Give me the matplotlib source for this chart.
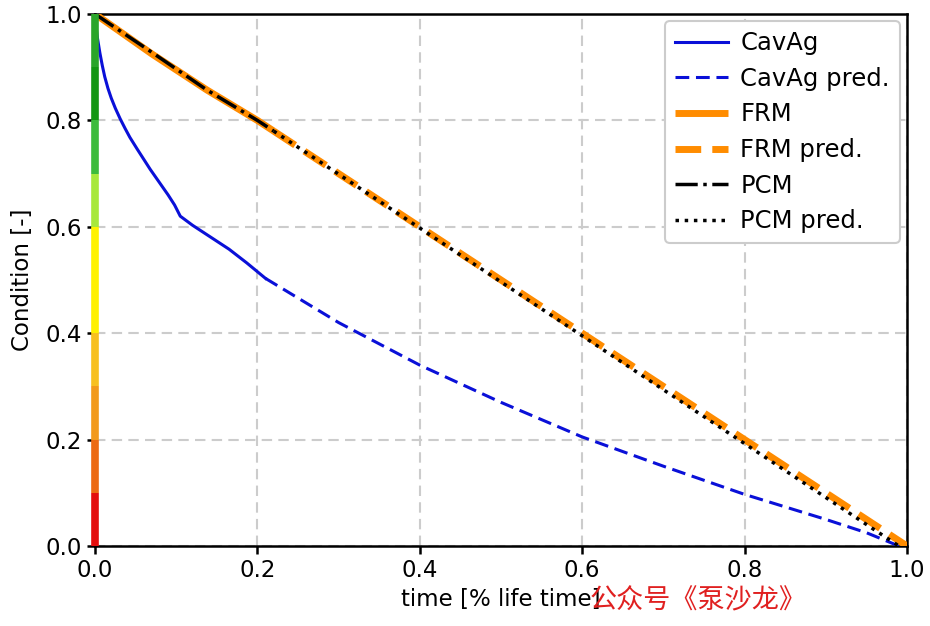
import matplotlib
matplotlib.use("Agg")
import matplotlib.pyplot as plt
import numpy as np

# --- data ---
cavag_x = [0.0, 0.001, 0.003, 0.006, 0.009, 0.012, 0.016, 0.02, 0.025, 0.031, 0.037,
           0.043, 0.052, 0.06, 0.068, 0.079, 0.09, 0.098, 0.105, 0.12, 0.142, 0.165, 0.187, 0.21]
cavag_y = [1.0, 0.98, 0.955, 0.927, 0.903, 0.882, 0.86, 0.842, 0.823, 0.803, 0.785,
           0.768, 0.746, 0.727, 0.708, 0.684, 0.66, 0.641, 0.62, 0.603, 0.581, 0.558, 0.532, 0.503]
cavag_pred_x = [0.21, 0.3, 0.4, 0.5, 0.6, 0.7, 0.8, 0.9, 0.95, 0.99]
cavag_pred_y = [0.503, 0.42, 0.34, 0.27, 0.205, 0.15, 0.097, 0.05, 0.025, 0.0]

frm_x = [0.0, 0.07, 0.138, 0.2, 0.22]
frm_y = [1.0, 0.925, 0.857, 0.80, 0.78]
frm_pred_x = [0.22, 1.0]
frm_pred_y = [0.78, 0.0]

pcm_x = [0.0, 0.07, 0.138, 0.2, 0.22]
pcm_y = [1.0, 0.928, 0.857, 0.80, 0.78]
pcm_pred_x = [0.22, 0.99]
pcm_pred_y = [0.78, 0.0]

band_edges = [0.0, 0.1, 0.2, 0.3, 0.4, 0.5, 0.6, 0.7, 0.8, 0.9, 1.0]
band_colors = ['#e30d0d', '#ec6a12', '#f29a1c', '#f7c020', '#fff000', '#fff200',
               '#a8e83c', '#3cbb3c', '#139613', '#2aa52a']

xticks = [0.0, 0.2, 0.4, 0.6, 0.8, 1.0]
yticks = [0.0, 0.2, 0.4, 0.6, 0.8, 1.0]

fs = 16.5
plt.rcParams['font.family'] = ['DejaVu Sans']

fig = plt.figure(figsize=(9.3, 6.26), dpi=100)
ax = fig.add_axes([95/930, 1-546/626, (907-95)/930, (546-14)/626])

ax.grid(True, color='#cccccc', linestyle='--', linewidth=1.5, dashes=(5, 3))
ax.set_axisbelow(True)

ax.plot(cavag_x, cavag_y, color='#0a10d8', lw=2.2, label='CavAg', zorder=3)
ax.plot(cavag_pred_x, cavag_pred_y, color='#0a10d8', lw=2.2, ls='--', dashes=(4.5, 2.2),
        label='CavAg pred.', zorder=3)
ax.plot(frm_x, frm_y, color='#ff8c00', lw=5, label='FRM', zorder=4, solid_capstyle='butt')
ax.plot(frm_pred_x, frm_pred_y, color='#ff8c00', lw=5, ls='--', label='FRM pred.', zorder=4)
ax.plot(pcm_x, pcm_y, color='black', lw=2.5, ls='-.', label='PCM', zorder=5)
ax.plot(pcm_pred_x, pcm_pred_y, color='black', lw=2.5, ls=':', label='PCM pred.', zorder=5)

for i, c in enumerate(band_colors):
    ax.plot([0, 0], [band_edges[i], band_edges[i+1]], color=c, lw=5.5,
            solid_capstyle='butt', clip_on=False, zorder=6)

ax.set_xlim(0, 1)
ax.set_ylim(0, 1)
ax.set_xticks(xticks)
ax.set_yticks(yticks)
ax.set_xticklabels([f'{t:.1f}' for t in xticks])
ax.set_yticklabels([f'{t:.1f}' for t in yticks])
ax.tick_params(labelsize=fs, length=6, width=1.8, direction='out')
for s in ax.spines.values():
    s.set_linewidth(1.8)

ax.set_xlabel('time [% life time]', fontsize=fs, labelpad=4)
ax.set_ylabel('Condition [-]', fontsize=fs, labelpad=8)

leg = ax.legend(loc='upper right', fontsize=17.5, handlelength=2.2, handletextpad=0.5,
                borderaxespad=0.3, framealpha=1, edgecolor='#cccccc', fancybox=True,
                labelspacing=0.48)
leg.get_frame().set_linewidth(1.5)

fig.text(590/930, 1-601/626, '公众号《泵沙龙》', fontsize=19.5, color='#e02020',
         family=['Noto Sans CJK SC', 'DejaVu Sans'], va='center', ha='left')

fig.savefig('out.png', dpi=100)
